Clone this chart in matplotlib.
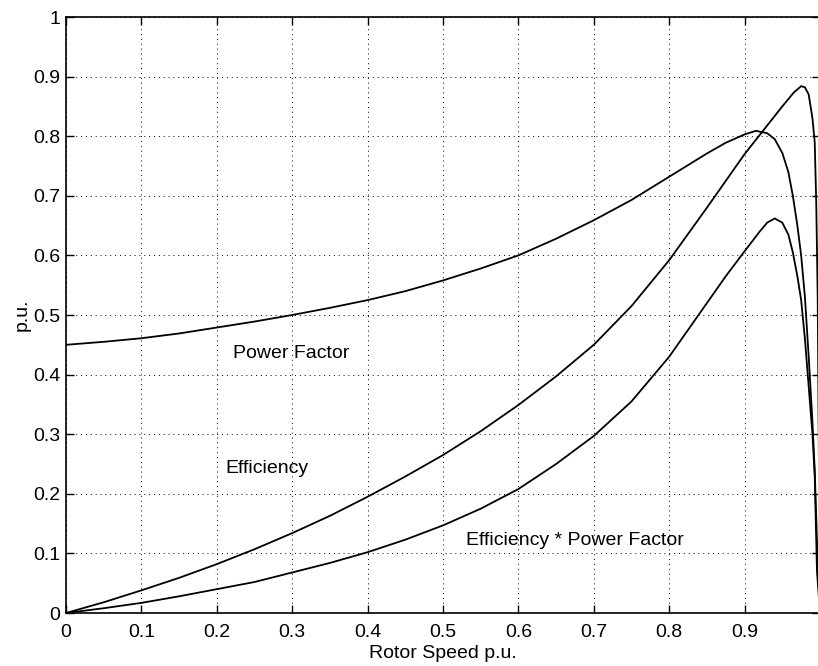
import numpy as np
import matplotlib
matplotlib.use('Agg')
import matplotlib.pyplot as plt

# values (rotor speed in p.u.)
pf_speed = [0.0, 0.05, 0.1, 0.15, 0.2, 0.25, 0.3, 0.35, 0.4, 0.45, 0.5, 0.55, 0.6, 0.65, 0.7, 0.75,
            0.8, 0.85, 0.875, 0.9, 0.915, 0.93, 0.94, 0.95, 0.958, 0.964, 0.97, 0.975, 0.98,
            0.985, 0.99, 0.993, 0.995, 0.997, 1.0]
pf_value = [0.45, 0.455, 0.461, 0.469, 0.479, 0.489, 0.50, 0.512, 0.525, 0.54, 0.558, 0.578, 0.60, 0.628,
            0.659, 0.693, 0.732, 0.771, 0.789, 0.803, 0.809, 0.805, 0.795, 0.772, 0.74, 0.70, 0.65,
            0.60, 0.53, 0.43, 0.32, 0.24, 0.16, 0.08, 0.0]

eff_speed = [0.0, 0.05, 0.1, 0.15, 0.2, 0.25, 0.3, 0.35, 0.4, 0.45, 0.5, 0.55, 0.6, 0.65, 0.7, 0.75,
             0.8, 0.85, 0.875, 0.9, 0.925, 0.95, 0.965, 0.975, 0.98, 0.985, 0.99, 0.993, 0.995,
             0.997, 1.0]
eff_value = [0.0, 0.018, 0.038, 0.059, 0.082, 0.107, 0.134, 0.163, 0.195, 0.229, 0.265, 0.305, 0.349,
             0.397, 0.45, 0.515, 0.592, 0.68, 0.725, 0.77, 0.81, 0.85, 0.873, 0.884, 0.882, 0.87, 0.83,
             0.79, 0.69, 0.525, 0.0]

epf_speed = [0.0, 0.05, 0.1, 0.15, 0.2, 0.25, 0.3, 0.35, 0.4, 0.45, 0.5, 0.55, 0.6, 0.65, 0.7, 0.75,
             0.8, 0.85, 0.875, 0.9, 0.92, 0.93, 0.94, 0.95, 0.958, 0.964, 0.97, 0.975, 0.98, 0.985,
             0.99, 0.993, 0.996, 1.0]
epf_value = [0.0, 0.008, 0.017, 0.028, 0.04, 0.052, 0.068, 0.084, 0.102, 0.123, 0.147, 0.175, 0.208,
             0.25, 0.297, 0.355, 0.43, 0.52, 0.565, 0.607, 0.64, 0.655, 0.662, 0.655, 0.635, 0.605,
             0.565, 0.525, 0.46, 0.38, 0.30, 0.23, 0.07, 0.0]

ticks = np.round(np.arange(0, 1.01, 0.1), 1)
x_labels = ['0', '0.1', '0.2', '0.3', '0.4', '0.5', '0.6', '0.7', '0.8', '0.9', '']
y_labels = ['0', '0.1', '0.2', '0.3', '0.4', '0.5', '0.6', '0.7', '0.8', '0.9', '1']

plt.rcParams['font.family'] = ['Liberation Sans', 'DejaVu Sans']

fig = plt.figure(figsize=(8.18, 6.66), dpi=100)
ax = fig.add_axes([66 / 818, 53 / 666, 754 / 818, 596 / 666])

for x, y in [(pf_speed, pf_value), (eff_speed, eff_value), (epf_speed, epf_value)]:
    ax.plot(x, y, color='black', linewidth=1.3)

ax.set_xlim(0, 1)
ax.set_ylim(0, 1)
ax.set_xticks(ticks)
ax.set_xticklabels(x_labels)
ax.set_yticks(ticks)
ax.set_yticklabels(y_labels)
ax.tick_params(direction='in', length=6, width=1, top=True, right=True, labelsize=14)
ax.tick_params(axis='x', pad=8)
ax.tick_params(axis='y', pad=4)
ax.grid(True, linestyle=(0, (1, 4)), color='black', linewidth=0.7)
for s in ax.spines.values():
    s.set_linewidth(1.2)

ax.set_xlabel('Rotor Speed p.u.', fontsize=14, labelpad=3)
ax.set_ylabel('p.u.', fontsize=14, labelpad=2)

ax.text(0.221, 0.4275, 'Power Factor', fontsize=14, va='baseline')
ax.text(0.211, 0.235, 'Efficiency', fontsize=14, va='baseline')
ax.text(0.531, 0.114, 'Efficiency * Power Factor', fontsize=14, va='baseline')

fig.savefig('out.png', dpi=100)
